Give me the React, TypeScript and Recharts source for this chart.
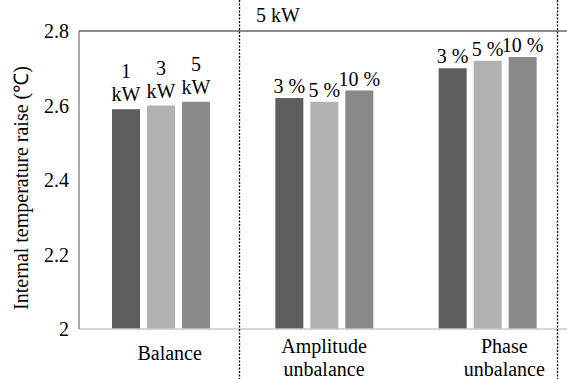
import React from 'react';
import { BarChart, Bar, XAxis, YAxis, LabelList, ReferenceLine } from 'recharts';

const categories = ['Balance', 'Amplitude unbalance', 'Phase unbalance'];
const seriesA = [2.59, 2.62, 2.70];
const seriesB = [2.60, 2.61, 2.72];
const seriesC = [2.61, 2.64, 2.73];
const labelsA = ['1 kW', '3 %', '3 %'];
const labelsB = ['3 kW', '5 %', '5 %'];
const labelsC = ['5 kW', '10 %', '10 %'];
const yTicks = [2, 2.2, 2.4, 2.6, 2.8];

const data = categories.map((c, i) => ({
  name: c,
  a: seriesA[i],
  b: seriesB[i],
  c: seriesC[i],
  la: labelsA[i],
  lb: labelsB[i],
  lc: labelsC[i],
}));

const FONT = '"Liberation Serif"';

function BarLabel(props: any) {
  const { x, y, width, value } = props;
  const cx = x + width / 2;
  const text = String(value);
  if (text.includes('kW')) {
    const parts = text.split(' ');
    return (
      <text x={cx} fill="#000" fontSize={20} style={{ fontFamily: FONT }} textAnchor="middle">
        <tspan x={cx} y={y - 31}>{parts[0]}</tspan>
        <tspan x={cx} y={y - 8}>{parts[1]}</tspan>
      </text>
    );
  }
  return (
    <text x={cx} y={y - 5} fill="#000" fontSize={20} style={{ fontFamily: FONT }} textAnchor="middle">
      {text}
    </text>
  );
}

const tickShift: Record<string, number> = { Balance: 9, 'Amplitude unbalance': 0, 'Phase unbalance': 17 };

function CatTick(props: any) {
  const { x, y, payload } = props;
  const v = String(payload.value);
  const dx = tickShift[v] || 0;
  const lines = v === 'Balance' ? ['Balance'] : v.split(' ');
  return (
    <text x={x + dx} y={y} fill="#000" fontSize={20} style={{ fontFamily: FONT }} textAnchor="middle">
      {lines.map((l, i) => (
        <tspan key={i} x={x + dx} y={y + (lines.length === 1 ? 23 : 16) + i * 23}>{l}</tspan>
      ))}
    </text>
  );
}

export default function App() {
  return (
    <div style={{ position: 'absolute', left: 0, top: 0, width: 567, height: 379, overflow: 'hidden', background: '#fff', fontFamily: FONT }}>
      <BarChart
        width={580}
        height={379}
        data={data}
        margin={{ top: 31, right: 11, bottom: 0, left: 0 }}
        barSize={28}
        barGap={7}
        style={{ fontFamily: FONT }}
      >
        <XAxis
          dataKey="name"
          height={50}
          tickLine={false}
          axisLine={{ stroke: '#c8c8c8', strokeWidth: 1.5 }}
          tick={<CatTick />}
          interval={0}
        />
        <YAxis
          width={79}
          domain={[2, 2.8]}
          ticks={yTicks}
          tickLine={false}
          axisLine={{ stroke: '#555', strokeWidth: 1 }}
          tick={{ fill: '#000', fontSize: 20, style: { fontFamily: FONT } }}
          tickMargin={4}
          tickFormatter={(v: number) => String(v)}
          label={{
            value: 'Internal temperature raise (℃)',
            angle: -90,
            position: 'insideLeft',
            dx: 16,
            dy: 8,
            style: { textAnchor: 'middle', fill: '#000', fontSize: 20, fontFamily: FONT },
          }}
        />
        <ReferenceLine y={2.8} stroke="#666" strokeWidth={1.5} />
        <Bar dataKey="a" fill="#5e5e5e" isAnimationActive={false}>
          <LabelList dataKey="la" content={<BarLabel />} />
        </Bar>
        <Bar dataKey="b" fill="#b2b2b2" isAnimationActive={false}>
          <LabelList dataKey="lb" content={<BarLabel />} />
        </Bar>
        <Bar dataKey="c" fill="#898989" isAnimationActive={false}>
          <LabelList dataKey="lc" content={<BarLabel />} />
        </Bar>
      </BarChart>
      <svg width={567} height={379} style={{ position: 'absolute', left: 0, top: 0, pointerEvents: 'none' }}>
        <line x1={239.5} y1={0} x2={239.5} y2={379} stroke="#000" strokeWidth={1.3} strokeDasharray="2 1.5" />
        <line x1={557.5} y1={0} x2={557.5} y2={379} stroke="#000" strokeWidth={1.3} strokeDasharray="2 1.5" />
        <text x={256} y={22} fontSize={20} style={{ fontFamily: FONT }} fill="#000">5 kW</text>
      </svg>
    </div>
  );
}
